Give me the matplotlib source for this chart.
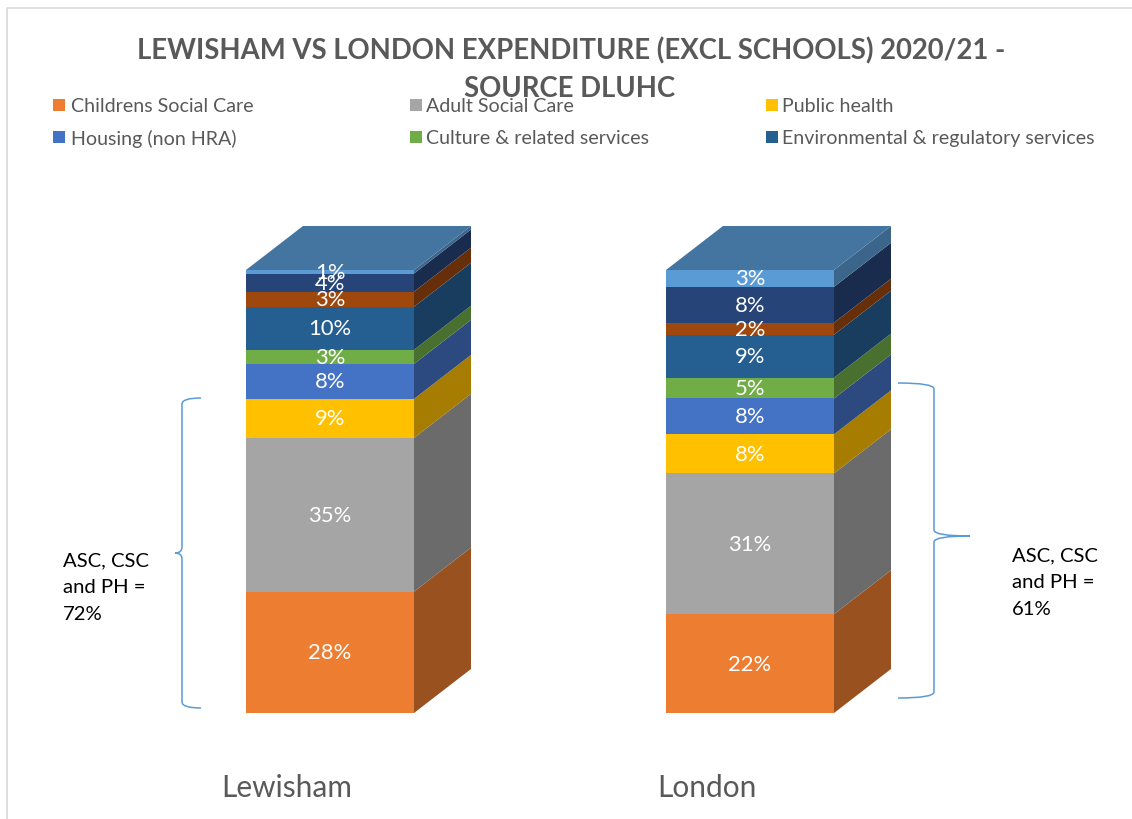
import matplotlib
matplotlib.use('Agg')
import matplotlib.pyplot as plt
from matplotlib.patches import Polygon, PathPatch, Rectangle
from matplotlib.path import Path
from matplotlib.colors import to_rgb

plt.rcParams['font.family'] = ['Lato', 'DejaVu Sans']

# data, bottom to top of each stack
places = ['Lewisham', 'London']
lewisham = [27.4, 34.7, 8.8, 7.9, 3.2, 9.7, 3.4, 4.1, 0.8]
london = [22.3, 31.8, 8.8, 8.1, 4.7, 9.7, 2.7, 8.1, 3.8]
lewisham_labels = ['28%', '35%', '9%', '8%', '3%', '10%', '3%', '4%', '1%']
london_labels = ['22%', '31%', '8%', '8%', '5%', '9%', '2%', '8%', '3%']
colours = ['#ED7D31', '#A5A5A5', '#FFC000', '#4472C4', '#70AD47',
           '#255E91', '#9E480E', '#264478', '#5B9BD5']
legend_names = ['Childrens Social Care', 'Adult Social Care', 'Public health',
                'Housing (non HRA)', 'Culture & related services',
                'Environmental & regulatory services']
title_lines = ['LEWISHAM VS LONDON EXPENDITURE (EXCL SCHOOLS) 2020/21 -', 'SOURCE DLUHC']
note_left = 'ASC, CSC\nand PH =\n72%'
note_right = 'ASC, CSC\nand PH =\n61%'

W, H = 1132, 820
BLUE = '#5B9BD5'
GREY = '#595959'


def shade(colour, k):
    return tuple(c * k for c in to_rgb(colour))


fig = plt.figure(figsize=(W / 100, H / 100), dpi=100)

# bars: 420 px between categories, 4.43 px per percent, baseline at y=714
ax = fig.add_axes([0, 0, 1, 1])
px_x = 420
px_y = 4.43
ax.set_xlim(-330 / px_x, (W - 330) / px_x)
ax.set_ylim(-(H - 714) / px_y, 714 / px_y)
ax.axis('off')
bar_w = 168 / px_x
dx = 57 / px_x
dy = 44 / px_y

for i, (vals, labels) in enumerate([(lewisham, lewisham_labels), (london, london_labels)]):
    bottom = 0
    right = i + bar_w / 2
    for v, lab, c in zip(vals, labels, colours):
        ax.bar(i, v, bar_w, bottom=bottom, color=c, linewidth=0, zorder=2)
        ax.add_patch(Polygon([(right, bottom), (right + dx, bottom + dy),
                              (right + dx, bottom + v + dy), (right, bottom + v)],
                             closed=True, facecolor=shade(c, 0.65), edgecolor='none', zorder=2))
        ax.text(i, bottom + v / 2, lab, color='white', fontsize=15.8, ha='center', va='center', zorder=4)
        bottom += v
    ax.add_patch(Polygon([(i - bar_w / 2, bottom), (right, bottom),
                          (right + dx, bottom + dy), (i - bar_w / 2 + dx, bottom + dy)],
                         closed=True, facecolor=shade(colours[-1], 0.75), edgecolor='none', zorder=2))

# everything else in pixel coordinates on top
ov = fig.add_axes([0, 0, 1, 1])
ov.set_xlim(0, W)
ov.set_ylim(H, 0)
ov.axis('off')
ov.patch.set_alpha(0)

ov.plot([6.5, 6.5, W], [H, 9, 9], color='#D9D9D9', linewidth=1.2)

ov.text(571, 51, title_lines[0], color=GREY, fontsize=19.8, fontweight='bold', ha='center', va='center')
ov.text(570, 89, title_lines[1], color=GREY, fontsize=19.8, fontweight='bold', ha='center', va='center')

legend_x = [53, 410, 766]
legend_text_x = [71, 426, 782]
legend_y = [106, 138]
legend_colours = colours[:6]
for k, (name, c) in enumerate(zip(legend_names, legend_colours)):
    x = legend_x[k % 3]
    y = legend_y[k // 3]
    ov.add_patch(Rectangle((x, y - 6), 12, 12, facecolor=c, edgecolor='none'))
    ov.text(legend_text_x[k % 3], y + 0.5, name, color=GREY, fontsize=14.1, ha='left', va='center')

for name, cx in zip(places, [287, 707]):
    ov.text(cx, 788, name, color=GREY, fontsize=21.5, ha='center', va='center')

ov.text(63, 587.5, note_left, color='black', fontsize=14.6, ha='left', va='center', linespacing=1.68)
ov.text(1012, 582.5, note_right, color='black', fontsize=14.6, ha='left', va='center', linespacing=1.68)


def brace(tip_x, mid_y, spine_x, end_x, top, bot):
    # curly bracket made of quadratic curves
    verts = [(end_x, top), (spine_x, top), (spine_x, top + 6),
             (spine_x, mid_y - 6), (spine_x, mid_y), (tip_x, mid_y),
             (spine_x, mid_y), (spine_x, mid_y + 6),
             (spine_x, bot - 6), (spine_x, bot), (end_x, bot)]
    codes = [Path.MOVETO, Path.CURVE3, Path.CURVE3,
             Path.LINETO, Path.CURVE3, Path.CURVE3,
             Path.CURVE3, Path.CURVE3,
             Path.LINETO, Path.CURVE3, Path.CURVE3]
    ov.add_patch(PathPatch(Path(verts, codes), facecolor='none', edgecolor=BLUE, linewidth=1.1))


brace(175, 554, 182, 201, 399, 709)
brace(970, 537, 934, 898, 384, 699)

fig.savefig('out.png', dpi=100)
